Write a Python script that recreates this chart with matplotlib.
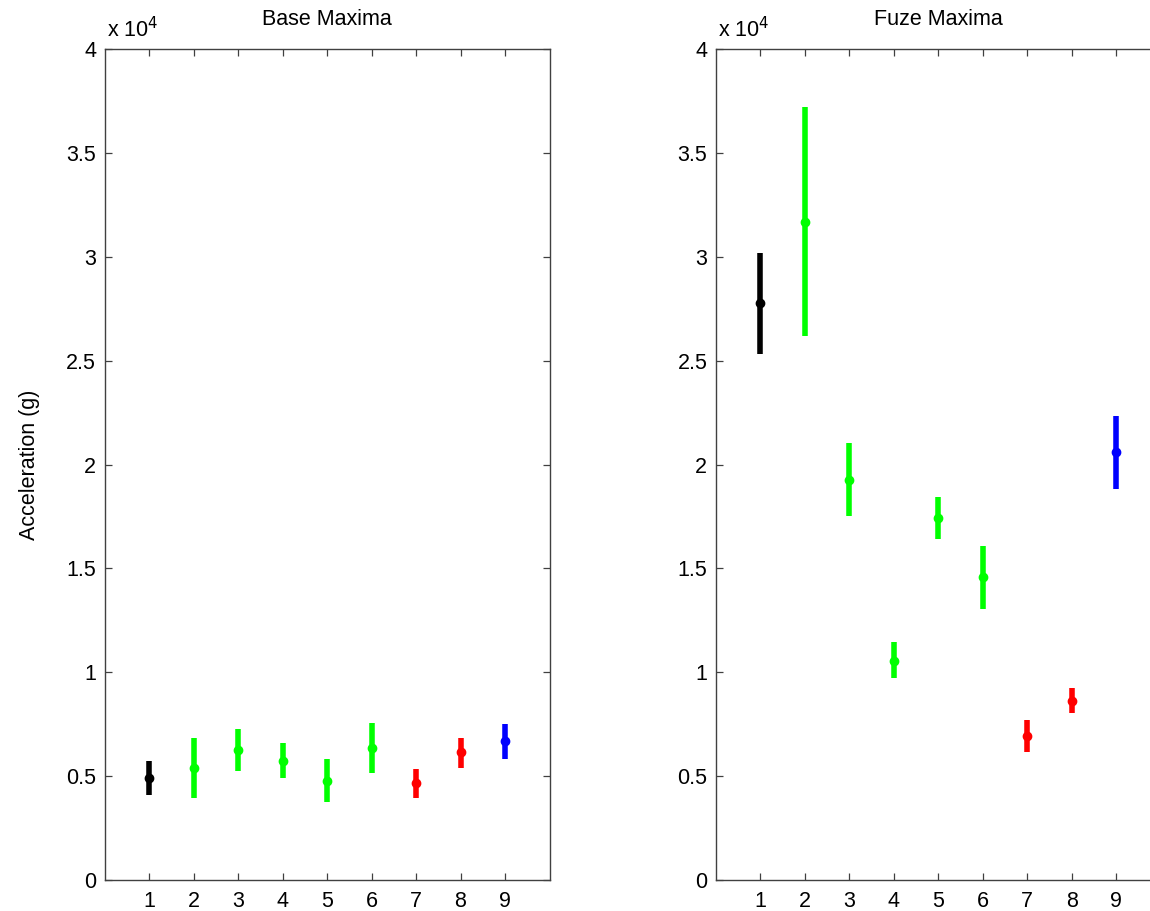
import matplotlib
matplotlib.use("Agg")
import matplotlib.pyplot as plt
from matplotlib.ticker import FuncFormatter

plt.rcParams['font.family'] = ['Liberation Sans', 'DejaVu Sans']

# Test configurations (x positions) and their colours
configs = [1, 2, 3, 4, 5, 6, 7, 8, 9]
colors = ['#000000', '#00ff00', '#00ff00', '#00ff00', '#00ff00', '#00ff00',
          '#ff0000', '#ff0000', '#0000ff']

# Base maxima, acceleration in g: mean, upper and lower extent
base_mean = [4920, 5380, 6260, 5740, 4780, 6370, 4650, 6140, 6690]
base_hi   = [5740, 6850, 7270, 6580, 5820, 7570, 5330, 6850, 7510]
base_lo   = [4090, 3960, 5250, 4920, 3770, 5130, 3960, 5380, 5810]

# Fuze maxima, acceleration in g: mean, upper and lower extent
fuze_mean = [27760, 31660, 19250, 10560, 17410, 14580, 6950, 8630, 20590]
fuze_hi   = [30170, 37190, 21020, 11470, 18450, 16080, 7700, 9260, 22350]
fuze_lo   = [25320, 26180, 17540, 9710, 16410, 13040, 6150, 8020, 18820]

titles = ['Base Maxima', 'Fuze Maxima']
yticks = [0, 5000, 10000, 15000, 20000, 25000, 30000, 35000, 40000]

W, H = 1150, 911
fig = plt.figure(figsize=(W / 100, H / 100), dpi=100)

ax_bottom = (H - 880) / H
ax_height = (880 - 49) / H
ax_width = 445 / W
ax1 = fig.add_axes([104.5 / W, ax_bottom, ax_width, ax_height])
ax2 = fig.add_axes([715.6 / W, ax_bottom, ax_width, ax_height])

fmt = FuncFormatter(lambda v, p: f'{v / 1e4:g}')
spine_col = '#404040'
fs = 15.5

for ax, mean, hi, lo, title in [(ax1, base_mean, base_hi, base_lo, titles[0]),
                                (ax2, fuze_mean, fuze_hi, fuze_lo, titles[1])]:
    for x, m, h, l, c in zip(configs, mean, hi, lo, colors):
        ax.errorbar([x], [m], yerr=[[m - l], [h - m]], fmt='o', color=c,
                    ecolor=c, elinewidth=4.0, markersize=6, capsize=0)
    ax.set_xlim(0, 10)
    ax.set_ylim(0, 40000)
    ax.set_xticks(configs)
    ax.set_yticks(yticks)
    ax.yaxis.set_major_formatter(fmt)
    ax.tick_params(direction='in', length=5, width=0.9, top=True, right=True,
                   labelsize=fs, color=spine_col)
    ax.tick_params(axis='y', pad=6)
    ax.tick_params(axis='x', pad=8)
    for s in ax.spines.values():
        s.set_color(spine_col)
        s.set_linewidth(1.0)
    ax.set_title(title, fontsize=fs, pad=17)
    ax.text(0.005, 1.008, r'x 10$^{4}$', transform=ax.transAxes,
            fontsize=fs, ha='left', va='bottom')

ax1.set_ylabel('Acceleration (g)', fontsize=fs, labelpad=19)

fig.savefig('out.png', dpi=100)
